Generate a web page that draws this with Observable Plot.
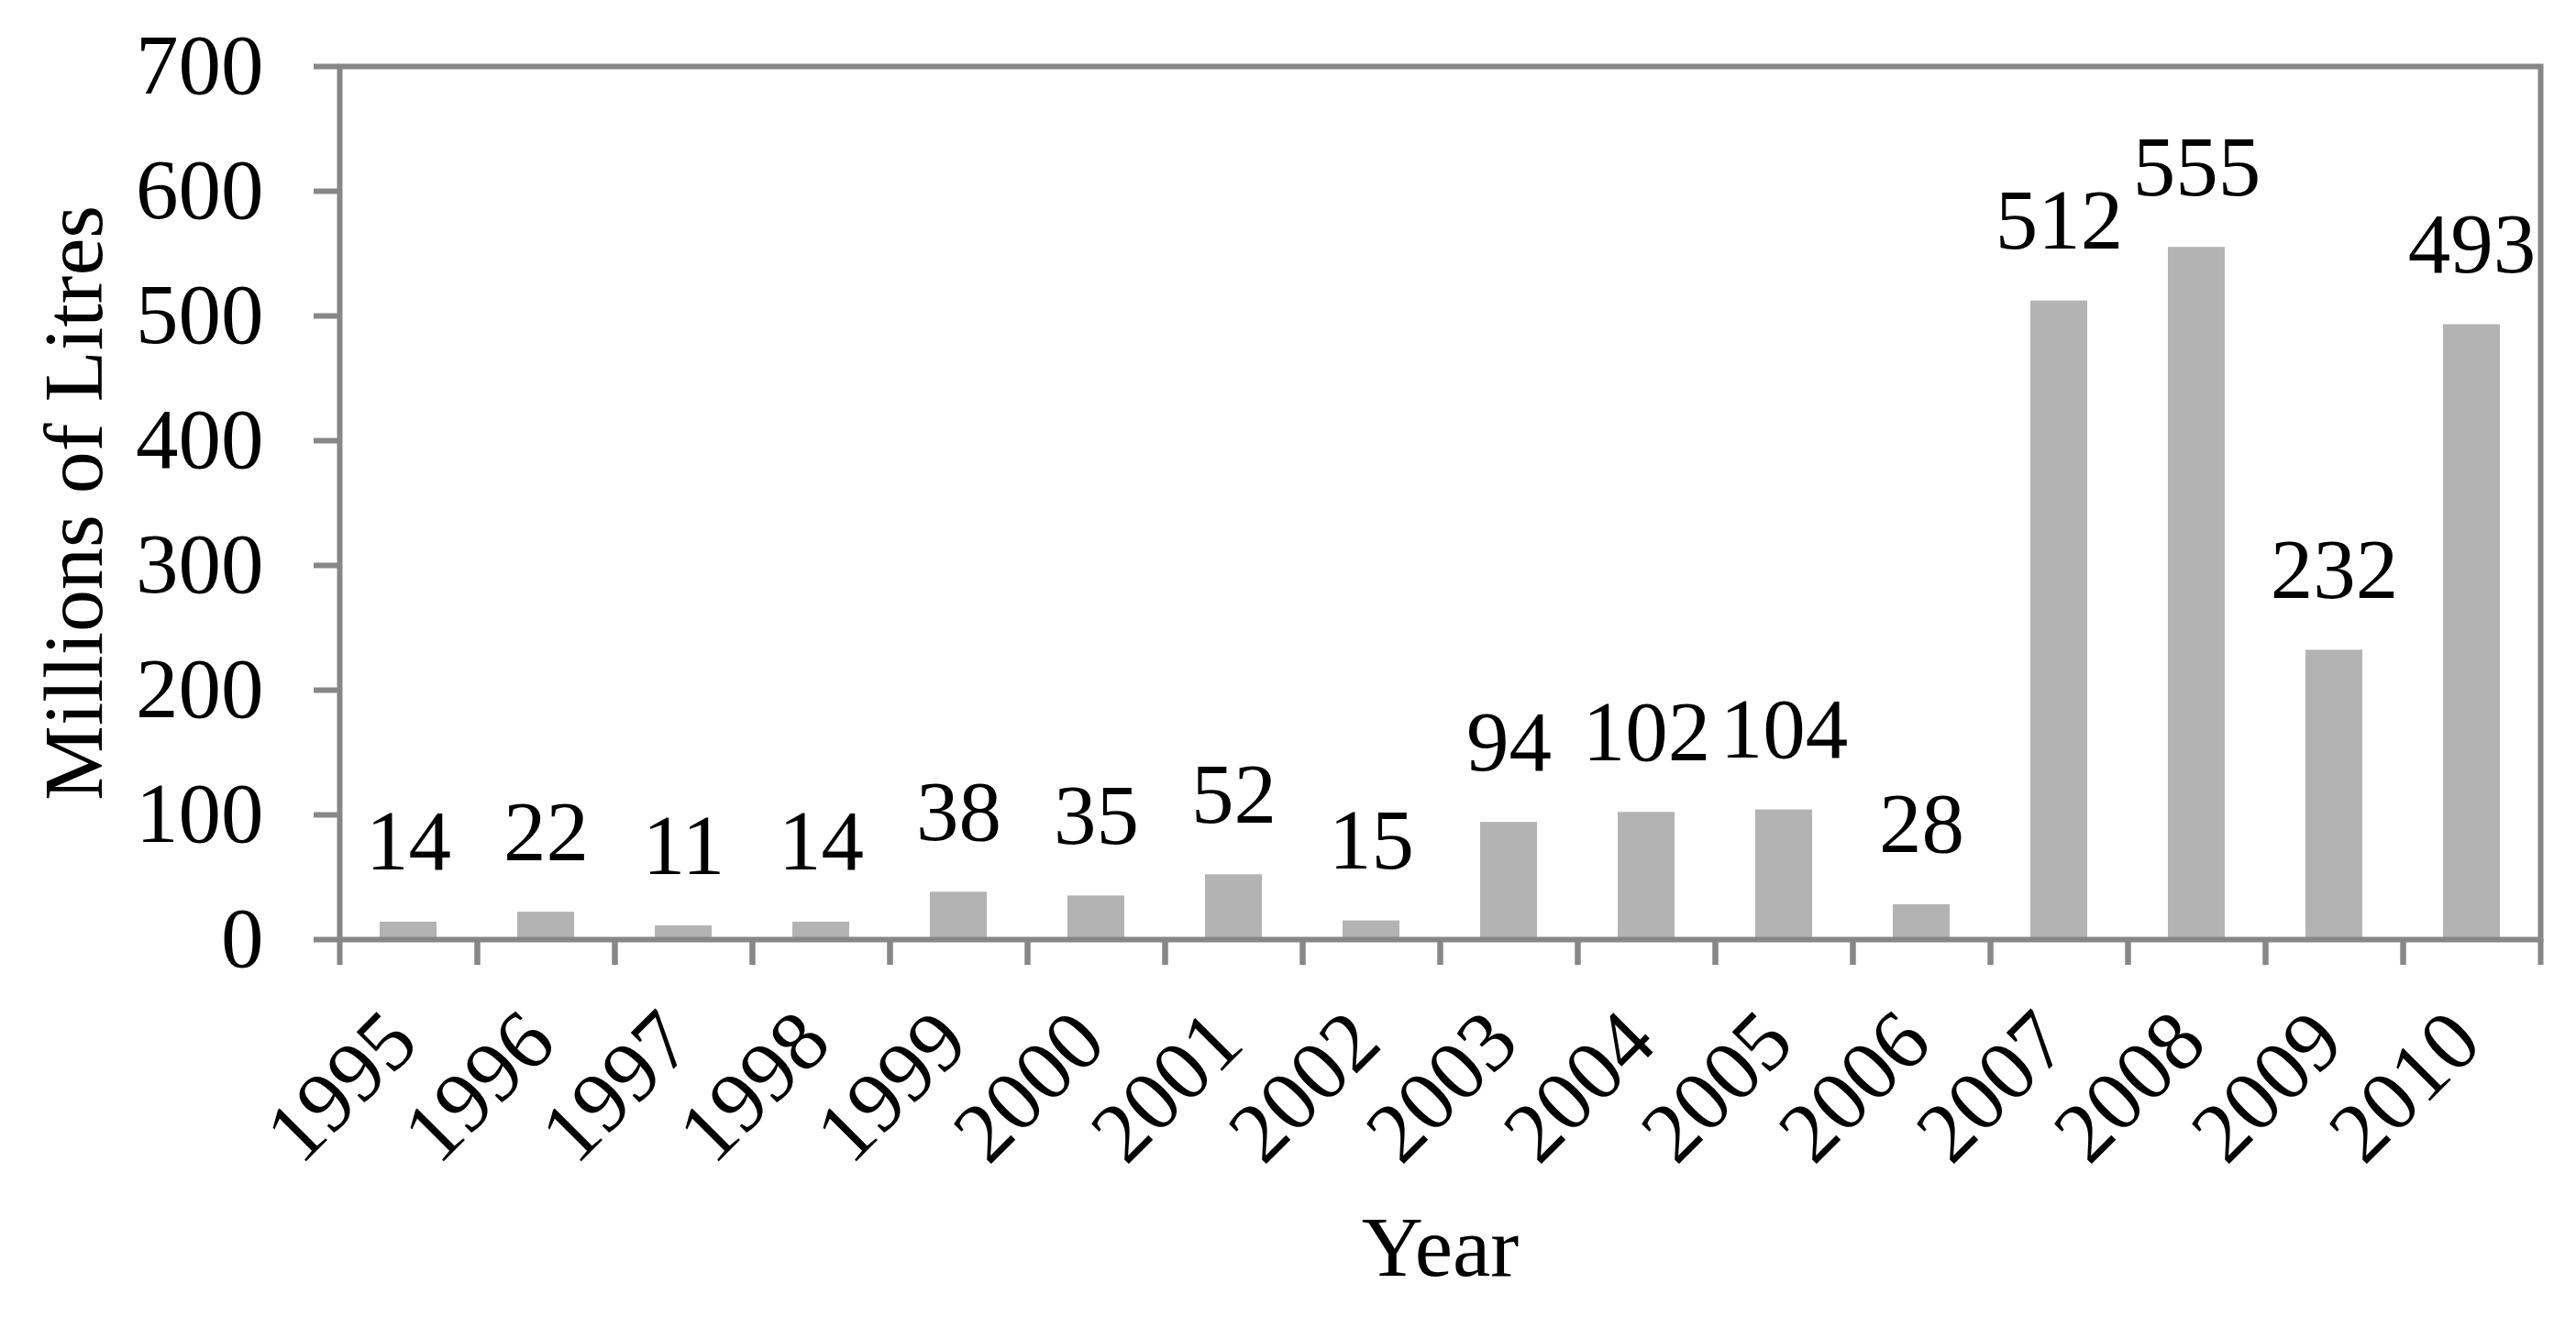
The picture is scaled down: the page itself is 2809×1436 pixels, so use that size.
<!DOCTYPE html>
<html>
<head>
<meta charset="utf-8">
<script src="https://cdn.jsdelivr.net/npm/d3@7"></script>
<script src="https://cdn.jsdelivr.net/npm/@observablehq/plot@0.6"></script>
<style>
  html, body { margin: 0; padding: 0; background: #ffffff; }
  #chart { width: 2809px; height: 1436px; }
</style>
</head>
<body>
<div id="chart"></div>
<script>
// ---- data ----
const years = ["1995","1996","1997","1998","1999","2000","2001","2002","2003","2004","2005","2006","2007","2008","2009","2010"];
const values = [14, 22, 11, 14, 38, 35, 52, 15, 94, 102, 104, 28, 512, 555, 232, 493];
const yTicks = [0, 100, 200, 300, 400, 500, 600, 700];
const xTitle = "Year";
const yTitle = "Millions of Litres";

const data = years.map((year, i) => ({year, value: values[i]}));

// ---- layout / style ----
const W = 2809, H = 1436;
const mL = 370, mR = 39, mT = 72, mB = 412;
const step = (W - mL - mR) / years.length;
const innerH = H - mT - mB;
const axisGray = "#878787";
const barGray = "#b3b3b3";
const font = "'Liberation Serif', 'Times New Roman', serif";
const fs = 93;

const chart = Plot.plot({
  width: W,
  height: H,
  marginLeft: mL,
  marginRight: mR,
  marginTop: mT,
  marginBottom: mB,
  style: {fontFamily: font, fontSize: fs + "px", background: "#ffffff", color: "#000000"},
  x: {type: "band", domain: years, paddingInner: 0.59, paddingOuter: 0.295},
  y: {domain: [0, 700]},
  marks: [
    Plot.barY(data, {x: "year", y: "value", fill: barGray}),
    Plot.frame({stroke: axisGray, strokeWidth: 6}),
    // category boundary ticks below the x axis
    Plot.ruleX(years, {x: d => d, dx: -step / 2, stroke: axisGray, strokeWidth: 6, insetTop: innerH, insetBottom: -28}),
    Plot.ruleX(years, {x: d => d, dx: step / 2, stroke: axisGray, strokeWidth: 6, insetTop: innerH, insetBottom: -28}),
    Plot.axisY({
      ticks: yTicks, tickSize: 28, tickPadding: 55, stroke: axisGray, strokeWidth: 6,
      tickFormat: d => String(d), label: null, fontSize: fs
    }),
    Plot.axisX({
      tickSize: 0, tickRotate: -45, textAnchor: "end", lineAnchor: "bottom",
      tickPadding: 116, dx: 14, label: null, fontSize: fs
    }),
    // value labels
    Plot.text(data, {x: "year", y: "value", text: d => String(d.value), dy: -57, lineAnchor: "bottom", fontSize: fs, fill: "#000000"}),
    // axis titles
    Plot.text([xTitle], {frameAnchor: "bottom", text: d => d, dy: 366, lineAnchor: "bottom", fontSize: fs, fill: "#000000"}),
    Plot.text([yTitle], {frameAnchor: "left", text: d => d, rotate: -90, dx: -260, dy: 0, lineAnchor: "bottom", textAnchor: "middle", fontSize: 92, fill: "#000000"})
  ]
});

document.getElementById("chart").appendChild(chart);
</script>
</body>
</html>
